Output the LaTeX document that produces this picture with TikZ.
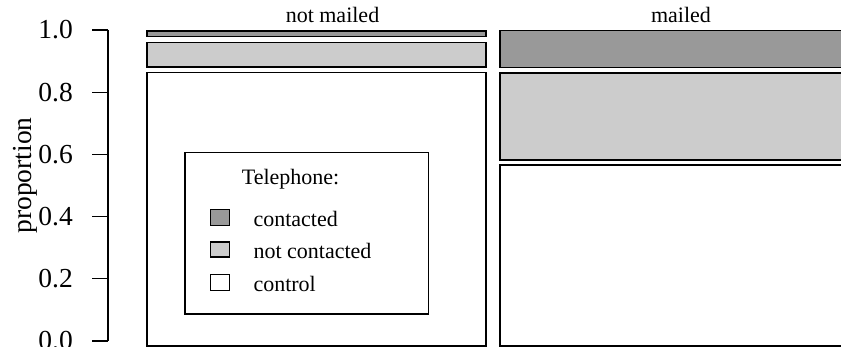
\documentclass[tikz,border=0pt]{standalone}
\usepackage{fontspec}
\setmainfont{Liberation Serif}
\definecolor{darkfill}{HTML}{999999}
\definecolor{lightfill}{HTML}{CCCCCC}
\tikzset{
  bar/.style={draw=black, line width=1.6pt},
  dark/.style={bar, fill=darkfill},
  light/.style={bar, fill=lightfill},
  plain/.style={bar, fill=white},
  axisline/.style={line width=1.3pt},
  ticklab/.style={anchor=east, inner sep=0pt, font=\fontsize{27.5}{30}\selectfont},
  striplab/.style={anchor=base, inner sep=0pt, font=\fontsize{22}{24}\selectfont},
  leglab/.style={anchor=base west, inner sep=0pt, font=\fontsize{22}{24}\selectfont},
  swatch/.style={draw=black, line width=1.3pt},
}
\begin{document}
\begin{tikzpicture}[x=1pt,y=-1pt]
\useasboundingbox (0,0) rectangle (841,347);
\clip (0,0) rectangle (841,347);
% y axis
\draw[axisline] (108,30) -- (108,341);
\foreach \v/\lab in {0/0.0,0.2/0.2,0.4/0.4,0.6/0.6,0.8/0.8,1/1.0}{
  \draw[axisline] (92,{341-311*\v}) -- (108,{341-311*\v});
  \node[ticklab] (t\lab) at (73,{341-311*\v}) {\lab};
}
\node[anchor=base, rotate=90, inner sep=0pt, font=\fontsize{27.5}{30}\selectfont] (ylab) at (31,175.5) {proportion};
% not mailed column
\draw[dark]  (147,31) rectangle (486,36.7);
\draw[light] (147,42.7) rectangle (486,67.3);
\draw[plain] (147,72.7) rectangle (486,346);
% mailed column
\draw[dark]  (500,30.7) rectangle (842,67.7);
\draw[light] (500,73.3) rectangle (842,160);
\draw[plain] (500,165.3) rectangle (842,346);
% strip labels
\node[striplab] (s1) at (332.5,22.7) {not mailed};
\node[striplab] (s2) at (681,22.7) {mailed};
% legend
\draw[bar, line width=1.3pt, fill=white] (185,152.7) rectangle (428.3,314);
\node[leglab] (lt) at (241.7,185) {Telephone:};
\draw[swatch, fill=darkfill]  (210.5,209.5) rectangle (229.5,225.5);
\draw[swatch, fill=lightfill] (210.5,242) rectangle (229.5,257);
\draw[swatch, fill=white]     (210.5,274.5) rectangle (229.5,290.5);
\node[leglab] (l1) at (253.3,226.7) {contacted};
\node[leglab] (l2) at (253.3,259) {not contacted};
\node[leglab] (l3) at (253.3,291.7) {control};
\end{tikzpicture}
\end{document}
